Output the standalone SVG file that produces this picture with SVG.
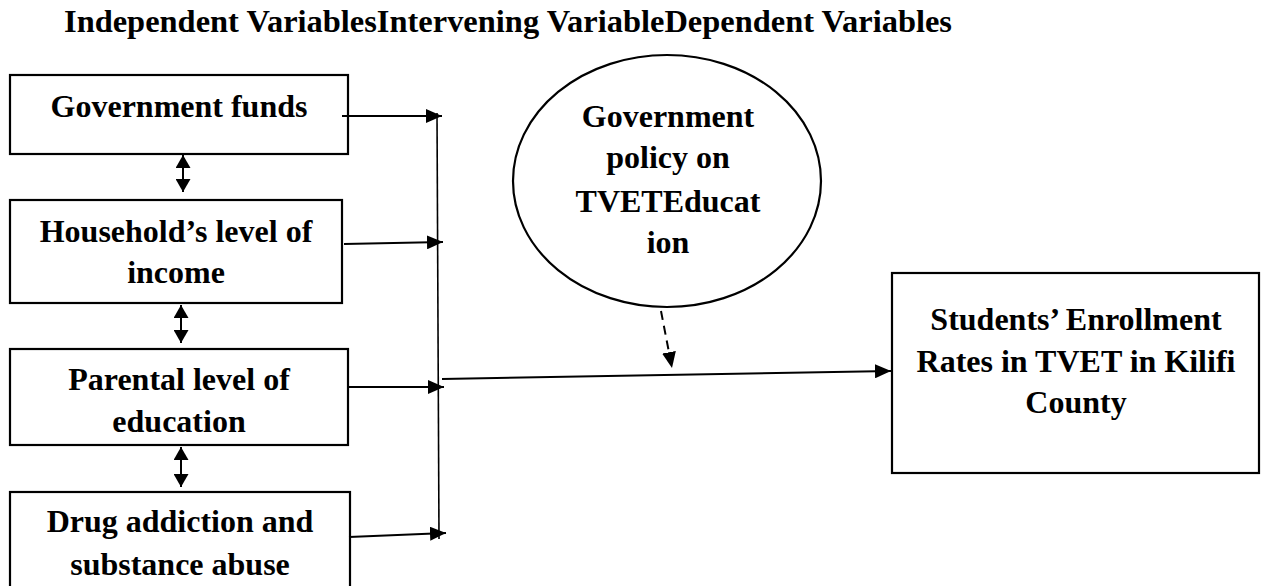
<svg xmlns="http://www.w3.org/2000/svg" width="1261" height="586" viewBox="0 0 1261 586">
<style>
.box{fill:#fff;stroke:#000;stroke-width:2.2}
.t{font-family:"Liberation Serif","Times New Roman",serif;font-weight:bold;font-size:32px;fill:#000;text-anchor:middle}
.ln{stroke:#000;stroke-width:2;fill:none}
.thin{stroke:#000;stroke-width:1.6;fill:none}
</style>
<defs>
<marker id="ah" viewBox="0 0 16 14" refX="16" refY="7" markerWidth="16" markerHeight="14" markerUnits="userSpaceOnUse" orient="auto">
<path d="M0,0 L16,7 L0,14 z" fill="#000"/>
</marker>
<marker id="ahs" viewBox="0 0 13 15" refX="13" refY="7.5" markerWidth="13" markerHeight="15" markerUnits="userSpaceOnUse" orient="auto-start-reverse">
<path d="M0,0 L13,7.5 L0,15 z" fill="#000"/>
</marker>
</defs>
<rect width="1261" height="586" fill="#fff"/>
<text x="64" y="32" font-family="Liberation Serif, Times New Roman, serif" font-weight="bold" font-size="32" textLength="888" lengthAdjust="spacingAndGlyphs">Independent VariablesIntervening VariableDependent Variables</text>

<g id="n1"><rect class="box" x="10" y="75" width="338" height="79"/><text class="t" x="179" y="117">Government funds</text></g>
<g id="n2"><rect class="box" x="10" y="200" width="332" height="103"/><text class="t" x="176" y="242">Household’s level of</text><text class="t" x="176" y="283">income</text></g>
<g id="n3"><rect class="box" x="10" y="349" width="338" height="96"/><text class="t" x="179" y="390">Parental level of</text><text class="t" x="179" y="432">education</text></g>
<g id="n4"><rect class="box" x="10" y="492" width="340" height="110"/><text class="t" x="180" y="532">Drug addiction and</text><text class="t" x="180" y="575">substance abuse</text></g>
<g id="n5"><ellipse class="box" cx="667" cy="181" rx="154" ry="126"/><text class="t" x="668" y="127">Government</text><text class="t" x="668" y="168">policy on</text><text class="t" x="668" y="212">TVETEducat</text><text class="t" x="668" y="253">ion</text></g>
<g id="n6"><rect class="box" x="892" y="273" width="367" height="200"/><text class="t" x="1076" y="330">Students’ Enrollment</text><text class="t" x="1076" y="372">Rates in TVET in Kilifi</text><text class="t" x="1076" y="413">County</text></g>

<g id="connectors">
<line class="ln" x1="183" y1="155" x2="183" y2="192" marker-start="url(#ahs)" marker-end="url(#ahs)"/>
<line class="ln" x1="181" y1="305" x2="181" y2="343" marker-start="url(#ahs)" marker-end="url(#ahs)"/>
<line class="ln" x1="181" y1="447" x2="181" y2="487" marker-start="url(#ahs)" marker-end="url(#ahs)"/>
<line class="thin" x1="437" y1="113" x2="439" y2="539"/>
<line class="ln" x1="342" y1="116" x2="442" y2="116" marker-end="url(#ah)"/>
<line class="ln" x1="344" y1="244" x2="443" y2="242" marker-end="url(#ah)"/>
<line class="ln" x1="348" y1="387" x2="444" y2="387" marker-end="url(#ah)"/>
<line class="ln" x1="349" y1="537" x2="446" y2="533" marker-end="url(#ah)"/>
<line class="ln" x1="442" y1="379" x2="891" y2="371" marker-end="url(#ah)"/>
<line class="ln" x1="661" y1="311" x2="672" y2="368" stroke-dasharray="9,6" marker-end="url(#ah)"/>
</g>
</svg>
